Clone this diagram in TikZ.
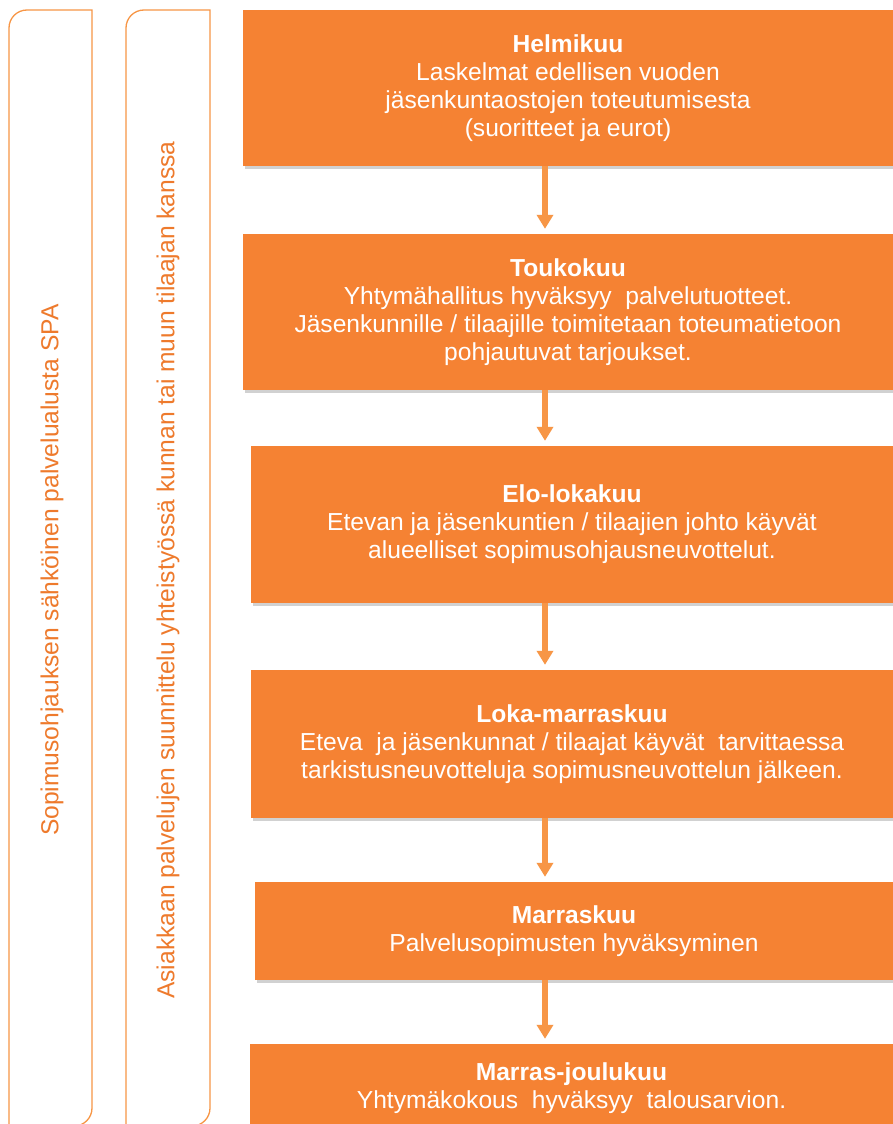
\documentclass[tikz,border=0pt]{standalone}
\usepackage{fontspec}
\setmainfont{Liberation Sans}
\usetikzlibrary{arrows.meta,shadows}
\definecolor{boxor}{HTML}{F58233}
\definecolor{arrowor}{HTML}{F79646}
\definecolor{lineor}{HTML}{F79646}
\definecolor{txtor}{HTML}{EE7A2C}
\tikzset{
  stepbox/.style={rectangle, fill=boxor, text=white, inner sep=0pt, align=center,
    font=\fontsize{24.6}{28}\selectfont,
    drop shadow={shadow xshift=2pt, shadow yshift=-3pt, opacity=0.18, fill=black}},
  flowarrow/.style={draw=arrowor, line width=6pt, shorten >=5pt,
    -{Triangle[width=16pt,length=14pt]}},
  barline/.style={draw=lineor, line width=1.3pt},
  bartext/.style={rotate=90, text=txtor, font=\fontsize{24.6}{28}\selectfont, inner sep=0pt}
}
\begin{document}
\begin{tikzpicture}[x=1pt,y=-1pt]
\useasboundingbox (0,0) rectangle (893,1124);
\clip (0,0) rectangle (893,1124);
\fill[white] (0,0) rectangle (893,1124);
% side bars
\draw[barline] (9,1140) -- (9,28) .. controls (9,18) and (17,10) .. (27,10) -- (92,10) -- (92,1108) .. controls (92,1118) and (84,1126) .. (74,1126) -- (9,1126);
\draw[barline] (126,1140) -- (126,28) .. controls (126,18) and (134,10) .. (144,10) -- (210,10) -- (210,1108) .. controls (210,1118) and (202,1126) .. (192,1126) -- (126,1126);
\node[bartext] (l1) at (52,570) {Sopimusohjauksen sähköinen palvelualusta SPA};
\node[bartext] (l2) at (168,570) {Asiakkaan palvelujen suunnittelu yhteistyössä kunnan tai muun tilaajan kanssa};
% boxes
\node[stepbox, minimum width=650, minimum height=156] (b1) at (568,88)
  {\textbf{Helmikuu}\\Laskelmat edellisen vuoden\\jäsenkuntaostojen toteutumisesta\\(suoritteet ja eurot)};
\node[stepbox, minimum width=650, minimum height=156] (b2) at (568,312)
  {\textbf{Toukokuu}\\Yhtymähallitus hyväksyy\ \ palvelutuotteet.\\Jäsenkunnille / tilaajille toimitetaan toteumatietoon\\pohjautuvat tarjoukset.};
\node[stepbox, minimum width=642, minimum height=157] (b3) at (572,524.5)
  {\textbf{Elo-lokakuu}\\Etevan ja jäsenkuntien / tilaajien johto käyvät\\alueelliset sopimusohjausneuvottelut.};
\node[stepbox, minimum width=642, minimum height=148] (b4) at (572,744)
  {\textbf{Loka-marraskuu}\\Eteva\ \ ja jäsenkunnat / tilaajat käyvät\ \ tarvittaessa\\tarkistusneuvotteluja sopimusneuvottelun jälkeen.};
\node[stepbox, minimum width=638, minimum height=98] (b5) at (574,931)
  {\textbf{Marraskuu}\\Palvelusopimusten hyväksyminen};
\node[stepbox, minimum width=643, minimum height=88] (b6) at (571.5,1088)
  {\textbf{Marras-joulukuu}\\Yhtymäkokous\ \ hyväksyy\ \ talousarvion.};
% arrows
\coordinate (ax) at (545,0);
\draw[flowarrow] (b1.south -| ax) -- (b2.north -| ax);
\draw[flowarrow] (b2.south -| ax) -- (b3.north -| ax);
\draw[flowarrow] (b3.south -| ax) -- (b4.north -| ax);
\draw[flowarrow] (b4.south -| ax) -- (b5.north -| ax);
\draw[flowarrow] (b5.south -| ax) -- (b6.north -| ax);
\end{tikzpicture}
\end{document}
